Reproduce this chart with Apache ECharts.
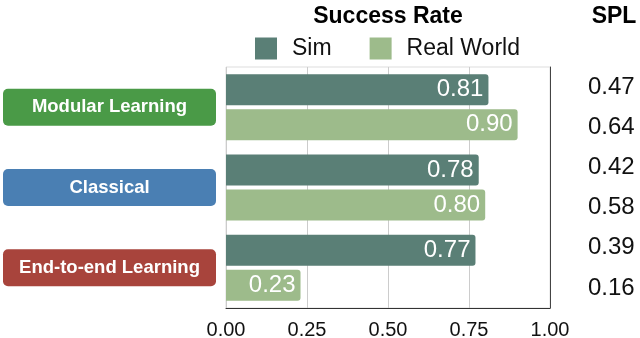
<!DOCTYPE html>
<html>
<head>
<meta charset="utf-8">
<script src="https://cdn.jsdelivr.net/npm/echarts@6/dist/echarts.min.js"></script>
<style>
  html, body { margin: 0; padding: 0; background: #fff; }
  #chart { width: 640px; height: 338px; }
</style>
</head>
<body>
<div id="chart"></div>
<script>
const methods = ['Modular Learning', 'Classical', 'End-to-end Learning'];
const simRate = [0.81, 0.78, 0.77];
const realRate = [0.90, 0.80, 0.23];
const splSim = ['0.47', '0.42', '0.39'];
const splReal = ['0.64', '0.58', '0.16'];
const xTicks = [0, 0.25, 0.5, 0.75, 1.0];

const methodColors = ['#4a9a47', '#4a7fb3', '#a8443c'];
const simColor = '#5a7f76';
const realColor = '#9dbb8b';

// SPL column: one row per bar, Sim then Real for each method
const splRows = [];
methods.forEach((m, i) => {
  splRows.push(splSim[i]);
  splRows.push(splReal[i]);
});

const font = 'Helvetica, "Liberation Sans", Arial, sans-serif';

const chart = echarts.init(document.getElementById('chart'));

const rich = {};
methods.forEach((m, i) => {
  rich['m' + i] = {
    backgroundColor: methodColors[i],
    borderRadius: 5,
    width: 213,
    height: 37,
    align: 'center',
    color: '#fff',
    fontWeight: 'bold',
    fontSize: 18.5,
    fontFamily: font,
  };
});

const option = {
  backgroundColor: '#fff',
  animation: false,
  title: [
    {
      text: 'Success Rate',
      left: 383,
      top: 0,
      textAlign: 'center',
      textStyle: { fontSize: 23, fontWeight: 'bold', color: '#000', fontFamily: font },
    },
    {
      text: 'SPL',
      left: 609,
      top: 0,
      textAlign: 'center',
      textStyle: { fontSize: 23, fontWeight: 'bold', color: '#000', fontFamily: font },
    },
  ],
  legend: {
    top: 37,
    left: 255,
    padding: 0,
    itemWidth: 22,
    itemHeight: 22,
    itemGap: 38,
    icon: 'rect',
    textStyle: { fontSize: 23, color: '#111', fontFamily: font, padding: [0, 0, 0, 10] },
    data: ['Sim', 'Real World'],
  },
  grid: {
    left: 226,
    right: 90,
    top: 67,
    bottom: 30,
    outerBoundsMode: 'none',
    containLabel: false,
    show: true,
    borderColor: '#ddd',
    borderWidth: 1,
  },
  xAxis: {
    type: 'value',
    min: 0,
    max: 1,
    interval: 0.25,
    axisLine: { show: true, lineStyle: { color: '#333' } },
    axisTick: { show: false },
    splitLine: { show: true, lineStyle: { color: '#ccc' } },
    axisLabel: {
      fontSize: 20,
      color: '#111',
      fontFamily: font,
      margin: 12,
      formatter: (v) => v.toFixed(2),
    },
  },
  yAxis: [
    {
      type: 'category',
      inverse: true,
      data: methods,
      axisLine: { show: false },
      axisTick: { show: false },
      axisLabel: {
        margin: 10,
        formatter: (v) => '{m' + methods.indexOf(v) + '|' + v + '}',
        rich: rich,
      },
    },
    {
      type: 'category',
      inverse: true,
      position: 'right',
      data: splRows,
      axisLine: { show: true, lineStyle: { color: '#444' } },
      axisTick: { show: false },
      axisLabel: {
        margin: 38,
        align: 'left',
        fontSize: 24,
        color: '#111',
        fontFamily: font,
      },
    },
  ],
  series: [
    {
      name: 'Sim',
      type: 'bar',
      yAxisIndex: 0,
      data: simRate,
      barWidth: 31,
      barGap: '13%',
      itemStyle: { color: simColor, borderRadius: [0, 3, 3, 0] },
      label: {
        show: true,
        position: 'insideRight',
        distance: 5,
        color: '#fff',
        fontSize: 24,
        fontFamily: font,
        formatter: (p) => p.value.toFixed(2),
      },
    },
    {
      name: 'Real World',
      type: 'bar',
      yAxisIndex: 0,
      data: realRate,
      barWidth: 31,
      itemStyle: { color: realColor, borderRadius: [0, 3, 3, 0] },
      label: {
        show: true,
        position: 'insideRight',
        distance: 5,
        color: '#fff',
        fontSize: 24,
        fontFamily: font,
        formatter: (p) => p.value.toFixed(2),
      },
    },
  ],
};

chart.setOption(option);
</script>
</body>
</html>
